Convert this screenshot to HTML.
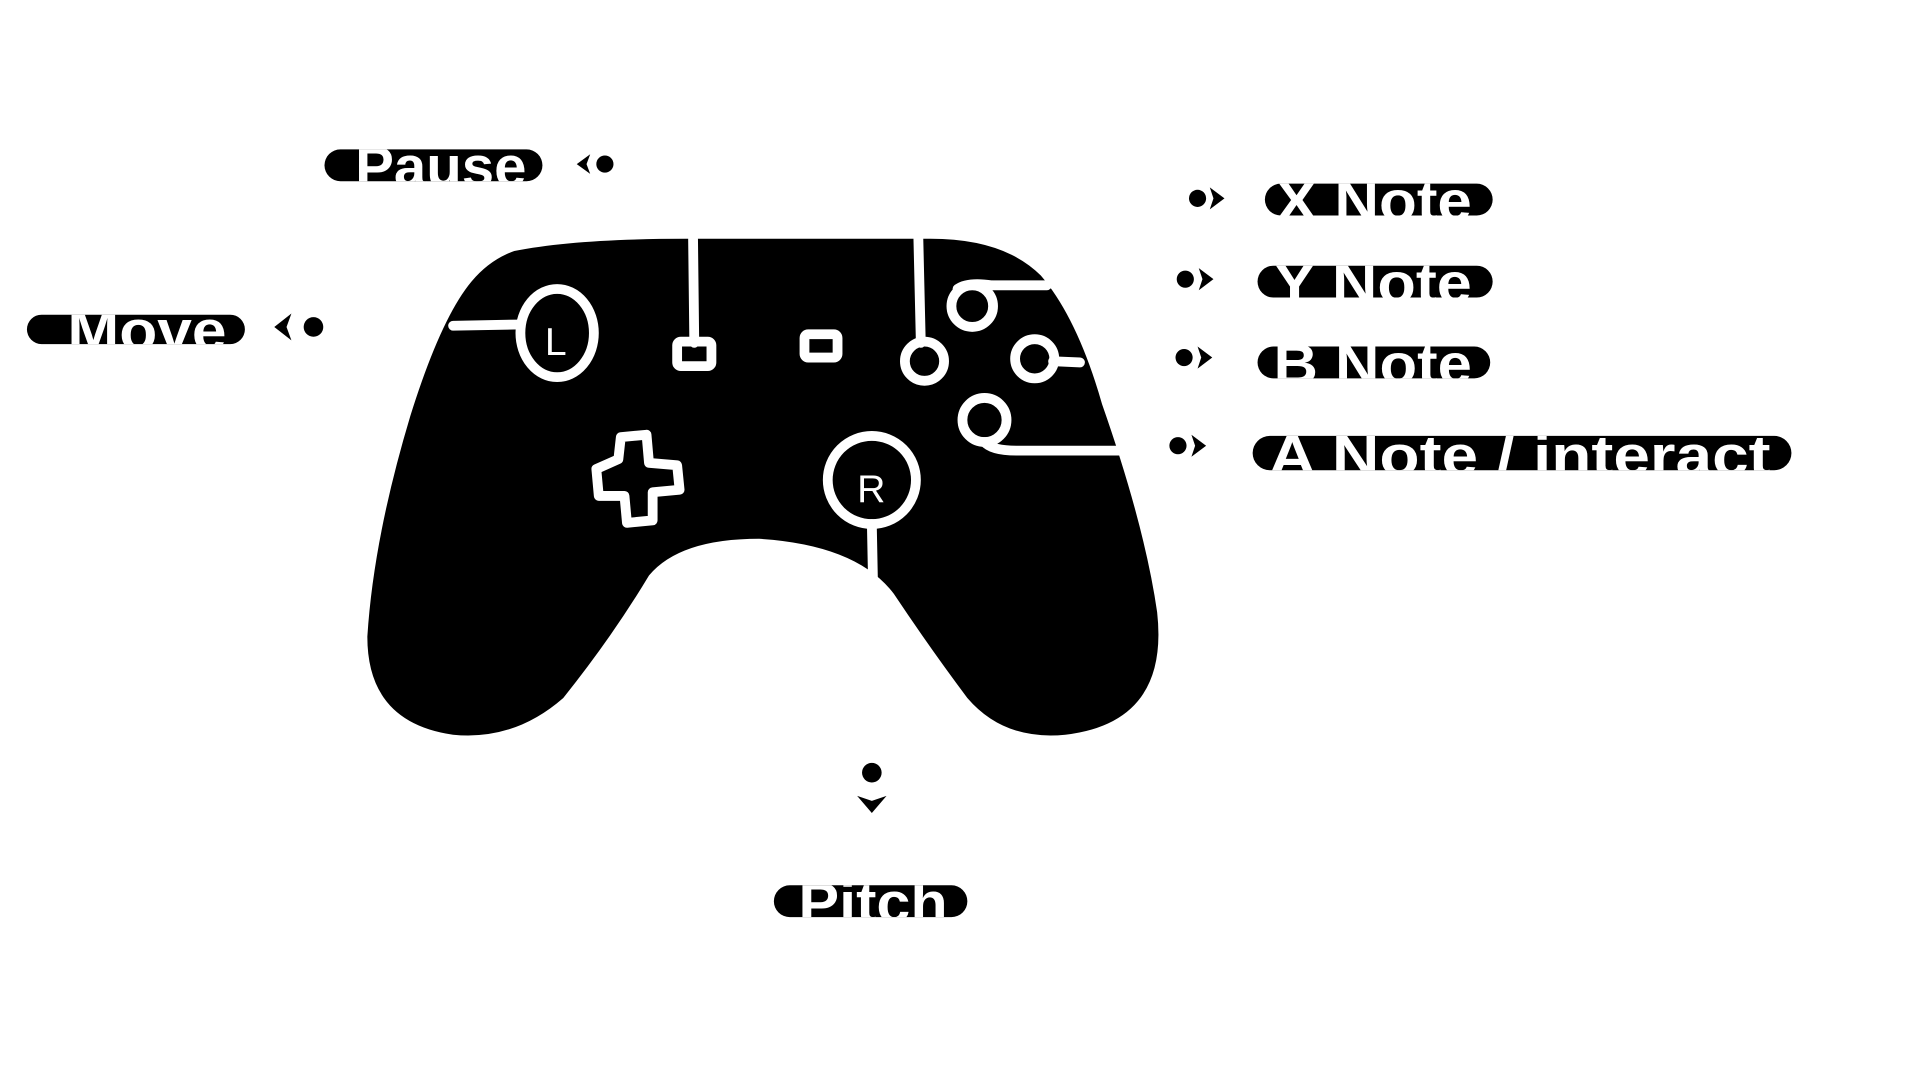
<!DOCTYPE html>
<html><head><meta charset="utf-8"><style>html,body{margin:0;padding:0;background:#fff;width:1920px;height:1080px;overflow:hidden}</style></head>
<body>
<svg width="1920" height="1080" viewBox="0 0 1568 882" xmlns="http://www.w3.org/2000/svg">
<defs>
<clipPath id="c1"><rect x="265" y="122" width="178" height="26" rx="13"/></clipPath>
<clipPath id="c2"><rect x="22" y="257" width="178" height="24" rx="12"/></clipPath>
<clipPath id="c3"><rect x="1033" y="150" width="186" height="26" rx="13"/></clipPath>
<clipPath id="c4"><rect x="1027" y="217" width="192" height="26" rx="13"/></clipPath>
<clipPath id="c5"><rect x="1027" y="283" width="190" height="26" rx="13"/></clipPath>
<clipPath id="c6"><rect x="1023" y="356" width="440" height="28" rx="14"/></clipPath>
<clipPath id="c7"><rect x="632" y="723" width="158" height="26" rx="13"/></clipPath>
</defs>
<path fill="#000" d="M420 205 Q470 195 560 195 L760 195 Q820 195 850 225 Q880 260 900 330 Q935 430 945 500 Q955 590 870 600 Q820 605 790 570 Q760 530 730 485 Q700 445 620 440 Q555 440 530 470 Q500 520 460 570 Q420 605 370 600 Q300 590 300 520 Q305 440 335 340 Q360 260 385 230 Q400 212 420 205 Z"/>
<g fill="none" stroke="#fff" stroke-width="8" stroke-linejoin="round" stroke-linecap="round">
<line x1="566" y1="195" x2="567" y2="280"/>
<rect x="553" y="279" width="28" height="20" rx="3"/>
<rect x="657" y="273" width="27" height="19" rx="3"/>
<line x1="750" y1="195" x2="752" y2="280"/>
<circle cx="755" cy="295" r="16"/>
<ellipse cx="455" cy="272" rx="30" ry="36"/>
<line x1="370" y1="266" x2="424" y2="265"/>
<circle cx="794" cy="250" r="17"/>
<path d="M782 236 Q790 230 810 233 L855 233"/>
<circle cx="845" cy="293" r="16"/>
<line x1="860" y1="295" x2="882" y2="296"/>
<circle cx="804" cy="343" r="18"/>
<path d="M804 361 Q810 368 830 368 L915 368"/>
<path d="M505 375 L507 357 L528 355 L530 378 L553 380 L555 400 L533 402 L533 425 L512 427 L510 405 L489 405 L487 383 Z"/>
<circle cx="712" cy="392" r="36"/>
<line x1="712" y1="428" x2="713" y2="478"/>
</g>
<text x="445" y="290" font-family="Liberation Sans, sans-serif" font-size="32" fill="#fff">L</text>
<text x="700" y="410" font-family="Liberation Sans, sans-serif" font-size="32" fill="#fff">R</text>
<g font-family="Liberation Sans, sans-serif" font-weight="bold" font-size="46" fill="#fff">
<rect x="265" y="122" width="178" height="26" rx="13" fill="#000"/>
<text clip-path="url(#c1)" x="290" y="152" textLength="140" lengthAdjust="spacingAndGlyphs">Pause</text>
<rect x="22" y="257" width="178" height="24" rx="12" fill="#000"/>
<text clip-path="url(#c2)" x="55" y="286" textLength="130" lengthAdjust="spacingAndGlyphs">Move</text>
<rect x="1033" y="150" width="186" height="26" rx="13" fill="#000"/>
<text clip-path="url(#c3)" x="1042" y="180" textLength="160" lengthAdjust="spacingAndGlyphs">X Note</text>
<rect x="1027" y="217" width="192" height="26" rx="13" fill="#000"/>
<text clip-path="url(#c4)" x="1040" y="247" textLength="162" lengthAdjust="spacingAndGlyphs">Y Note</text>
<rect x="1027" y="283" width="190" height="26" rx="13" fill="#000"/>
<text clip-path="url(#c5)" x="1040" y="313" textLength="162" lengthAdjust="spacingAndGlyphs">B Note</text>
<rect x="1023" y="356" width="440" height="28" rx="14" fill="#000"/>
<text clip-path="url(#c6)" x="1036" y="388" textLength="410" lengthAdjust="spacingAndGlyphs">A Note / interact</text>
<rect x="632" y="723" width="158" height="26" rx="13" fill="#000"/>
<text clip-path="url(#c7)" x="652" y="753" textLength="122" lengthAdjust="spacingAndGlyphs">Pitch</text>
</g>
<g fill="#000">
<circle cx="494" cy="134" r="7"/><path d="M471 134 L482 126 L479 134 L482 142 Z"/>
<circle cx="256" cy="267" r="8"/><path d="M224 267 L238 256 L234 267 L238 278 Z"/>
<circle cx="978" cy="162" r="7"/><path d="M1000 162 L988 153 L991 162 L988 171 Z"/>
<circle cx="968" cy="228" r="7"/><path d="M991 228 L979 219 L982 228 L979 237 Z"/>
<circle cx="967" cy="292" r="7"/><path d="M990 292 L978 283 L981 292 L978 301 Z"/>
<circle cx="962" cy="364" r="7"/><path d="M985 364 L973 355 L976 364 L973 373 Z"/>
<circle cx="712" cy="631" r="8"/><path d="M712 664 L700 650 L712 654 L724 650 Z"/>
</g>
</svg>
</body></html>
